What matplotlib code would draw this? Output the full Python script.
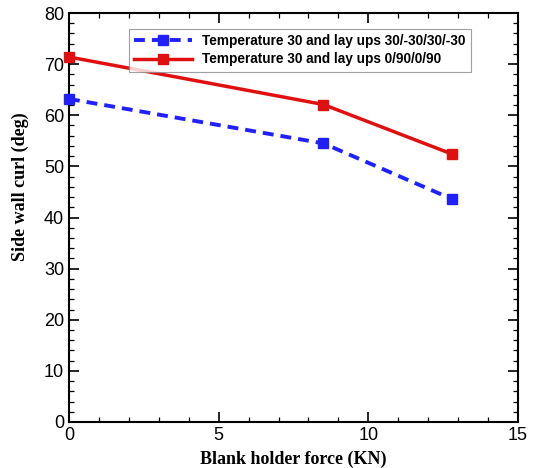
import matplotlib
matplotlib.use("Agg")
import matplotlib.pyplot as plt
from matplotlib.ticker import MultipleLocator

force = [0, 8.5, 12.8]
curl_angle = [63.2, 54.5, 43.6]
curl_cross = [71.4, 62.1, 52.4]
labels = ["Temperature 30 and lay ups 30/-30/30/-30",
          "Temperature 30 and lay ups 0/90/0/90"]

fig = plt.figure(figsize=(5.36, 4.68), dpi=100)
ax = fig.add_axes([0.1287, 0.0983, 0.8377, 0.8739])

ax.plot(force, curl_angle, color="#2020ff", linestyle=(0, (2.8, 1.8)), linewidth=2.8,
        marker="s", markersize=7, label=labels[0], clip_on=False, zorder=3)
ax.plot(force, curl_cross, color="#e01010", linestyle="-", linewidth=2.5,
        marker="s", markersize=7, label=labels[1], clip_on=False, zorder=3)

ax.set_xlim(0, 15)
ax.set_ylim(0, 80)
ax.xaxis.set_major_locator(MultipleLocator(5))
ax.xaxis.set_minor_locator(MultipleLocator(1))
ax.yaxis.set_major_locator(MultipleLocator(10))
ax.yaxis.set_minor_locator(MultipleLocator(2))
ax.tick_params(which="both", direction="in", top=True, right=True, width=1.2)
ax.tick_params(which="major", length=7, labelsize=13)
ax.tick_params(which="minor", length=3.5, width=0.9)
for lab in ax.get_xticklabels() + ax.get_yticklabels():
    lab.set_family("Liberation Sans")
for sp in ax.spines.values():
    sp.set_linewidth(1.5)

ax.set_xlabel("Blank holder force (KN)", family="Liberation Serif",
              fontweight="bold", fontsize=13, labelpad=5)
ax.set_ylabel("Side wall curl (deg)", family="Liberation Serif",
              fontweight="bold", fontsize=13)
ax.yaxis.set_label_coords(-0.09, 0.575)

leg = ax.legend(loc="upper right", bbox_to_anchor=(0.911, 0.978),
                prop={"family": "Liberation Sans", "weight": "bold", "size": 9.8},
                frameon=True, fancybox=False, edgecolor="#888888",
                handlelength=4.2, borderpad=0.4, labelspacing=0.3)
leg.get_frame().set_linewidth(0.8)

fig.savefig("out.png", dpi=100)
